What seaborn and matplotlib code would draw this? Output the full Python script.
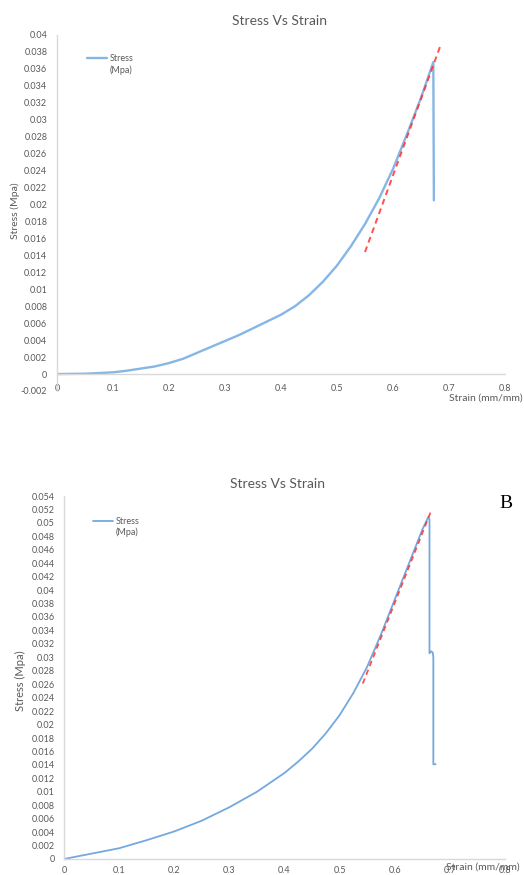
import numpy as np
import pandas as pd
import matplotlib
matplotlib.use('Agg')
import matplotlib.pyplot as plt
from matplotlib.ticker import MultipleLocator, FuncFormatter
import seaborn as sns

# Specimen A (top chart): strain (mm/mm) vs stress (Mpa)
strain_a = [0, 0.05, 0.10, 0.125, 0.15, 0.175, 0.20, 0.225, 0.25, 0.275, 0.30, 0.325,
            0.35, 0.375, 0.40, 0.425, 0.45, 0.475, 0.50, 0.525, 0.55, 0.575, 0.60,
            0.625, 0.65, 0.672, 0.673]
stress_a = [0, 0.00004, 0.0002, 0.0004, 0.00065, 0.0009, 0.0013, 0.0018, 0.0025, 0.0032, 0.0039, 0.0046,
            0.0054, 0.0062, 0.0070, 0.0080, 0.0093, 0.0109, 0.0128, 0.0151, 0.0177, 0.0207, 0.0242,
            0.0283, 0.0326, 0.0368, 0.0205]
fit_a_x = [0.55, 0.685]
fit_a_y = [0.0144, 0.0388]

# Specimen B (bottom chart)
strain_b = [0, 0.05, 0.10, 0.15, 0.20, 0.25, 0.30, 0.35, 0.40, 0.425, 0.45, 0.475, 0.50, 0.525,
            0.55, 0.575, 0.60, 0.625, 0.65, 0.661, 0.663, 0.663, 0.666, 0.669, 0.670, 0.670, 0.674]
stress_b = [0, 0.0008, 0.0016, 0.0028, 0.0041, 0.0057, 0.0077, 0.0100, 0.0128, 0.0145, 0.0164, 0.0187, 0.0214, 0.0247,
            0.0286, 0.0334, 0.0386, 0.0438, 0.0490, 0.0509, 0.0505, 0.0306, 0.0309, 0.0307, 0.0300, 0.0141, 0.0141]
fit_b_x = [0.542, 0.667]
fit_b_y = [0.0261, 0.0520]

title = "Stress Vs Strain"
legend_label = "Stress\n(Mpa)"
xlabel = "Strain (mm/mm)"
ylabel = "Stress (Mpa)"

sns.set_style("white")
plt.rcParams['font.family'] = ['Lato', 'DejaVu Sans']

grey = '#595959'
axis_grey = '#D9D9D9'

W, H = 524, 875
fig = plt.figure(figsize=(W / 100, H / 100), dpi=100)


def px_axes(left, top, right, bottom):
    return fig.add_axes([left / W, 1 - bottom / H, (right - left) / W, (bottom - top) / H])


def fmt(v, pos):
    s = '%g' % round(v, 4)
    return '0' if s == '-0' else s


def style(ax, ymin, ymax, xpad, ypad):
    ax.set_xlim(0, 0.8)
    ax.set_ylim(ymin, ymax)
    ax.xaxis.set_major_locator(MultipleLocator(0.1))
    ax.yaxis.set_major_locator(MultipleLocator(0.002))
    ax.xaxis.set_major_formatter(FuncFormatter(fmt))
    ax.yaxis.set_major_formatter(FuncFormatter(fmt))
    ax.tick_params(length=0, labelsize=6.5, labelcolor=grey)
    ax.tick_params(axis='x', pad=xpad)
    ax.tick_params(axis='y', pad=ypad)
    for s in ['top', 'right']:
        ax.spines[s].set_visible(False)
    for s in ['left', 'bottom']:
        ax.spines[s].set_color(axis_grey)
        ax.spines[s].set_linewidth(1)
    ax.spines['bottom'].set_position(('data', 0))
    ax.set_xlabel('')
    ax.set_ylabel('')
    ax.patch.set_alpha(0)


def add_legend(ax, x, y, spacing):
    leg = ax.legend(handles=ax.lines[:1], labels=[legend_label], frameon=False,
                    fontsize=6.5, labelcolor=grey, handlelength=2.3, handletextpad=0.25,
                    loc='upper left', bbox_to_anchor=(x / W, 1 - y / H),
                    bbox_transform=fig.transFigure, borderpad=0)
    for t in leg.get_texts():
        t.set_linespacing(spacing)
    # keep the legend line level with the first text line, as Excel does
    h = leg.legend_handles[0]
    h.set_ydata(np.asarray(h.get_ydata()) + 3.3 * spacing)
    return leg


# ---- top chart ----
ax1 = px_axes(57, 35, 505, 391)
df_a = pd.DataFrame({'strain': strain_a, 'stress': stress_a})
sns.lineplot(data=df_a, x='strain', y='stress', sort=False, estimator=None, ax=ax1,
             color='#86B6E4', linewidth=1.7, label=legend_label)
sns.lineplot(x=fit_a_x, y=fit_a_y, ax=ax1, color='#FF3030', linewidth=1.4,
             linestyle=(0, (3, 2.2)), alpha=0.85)
style(ax1, -0.002, 0.04, 7, 7)
add_legend(ax1, 82, 49, 1.45)
fig.text(280 / W, 1 - 21 / H, title, ha='center', va='center', fontsize=10, color=grey)
fig.text(15 / W, 1 - 211 / H, ylabel, rotation=90, ha='center', va='center',
         fontsize=7.5, color=grey)
fig.text(523 / W, 1 - 398 / H, xlabel, ha='right', va='center', fontsize=7.5, color=grey)

# ---- bottom chart ----
ax2 = px_axes(64, 496, 505, 859)
df_b = pd.DataFrame({'strain': strain_b, 'stress': stress_b})
sns.lineplot(data=df_b, x='strain', y='stress', sort=False, estimator=None, ax=ax2,
             color='#73A9DE', linewidth=1.3, label=legend_label)
sns.lineplot(x=fit_b_x, y=fit_b_y, ax=ax2, color='#FF3030', linewidth=1.3,
             linestyle=(0, (3, 2.2)), alpha=0.85)
style(ax2, 0, 0.054, 5, 6.5)
add_legend(ax2, 88, 512, 1.2)
fig.text(278 / W, 1 - 484 / H, title, ha='center', va='center', fontsize=10, color=grey)
fig.text(20 / W, 1 - 681 / H, ylabel, rotation=90, ha='center', va='center',
         fontsize=8, color=grey)
fig.text(520 / W, 1 - 867 / H, xlabel, ha='right', va='center', fontsize=7.5, color=grey)
fig.text(506 / W, 1 - 503 / H, "B", ha='center', va='center', fontsize=14,
         family='Liberation Serif', color='black')

fig.savefig('out.png', dpi=100)
